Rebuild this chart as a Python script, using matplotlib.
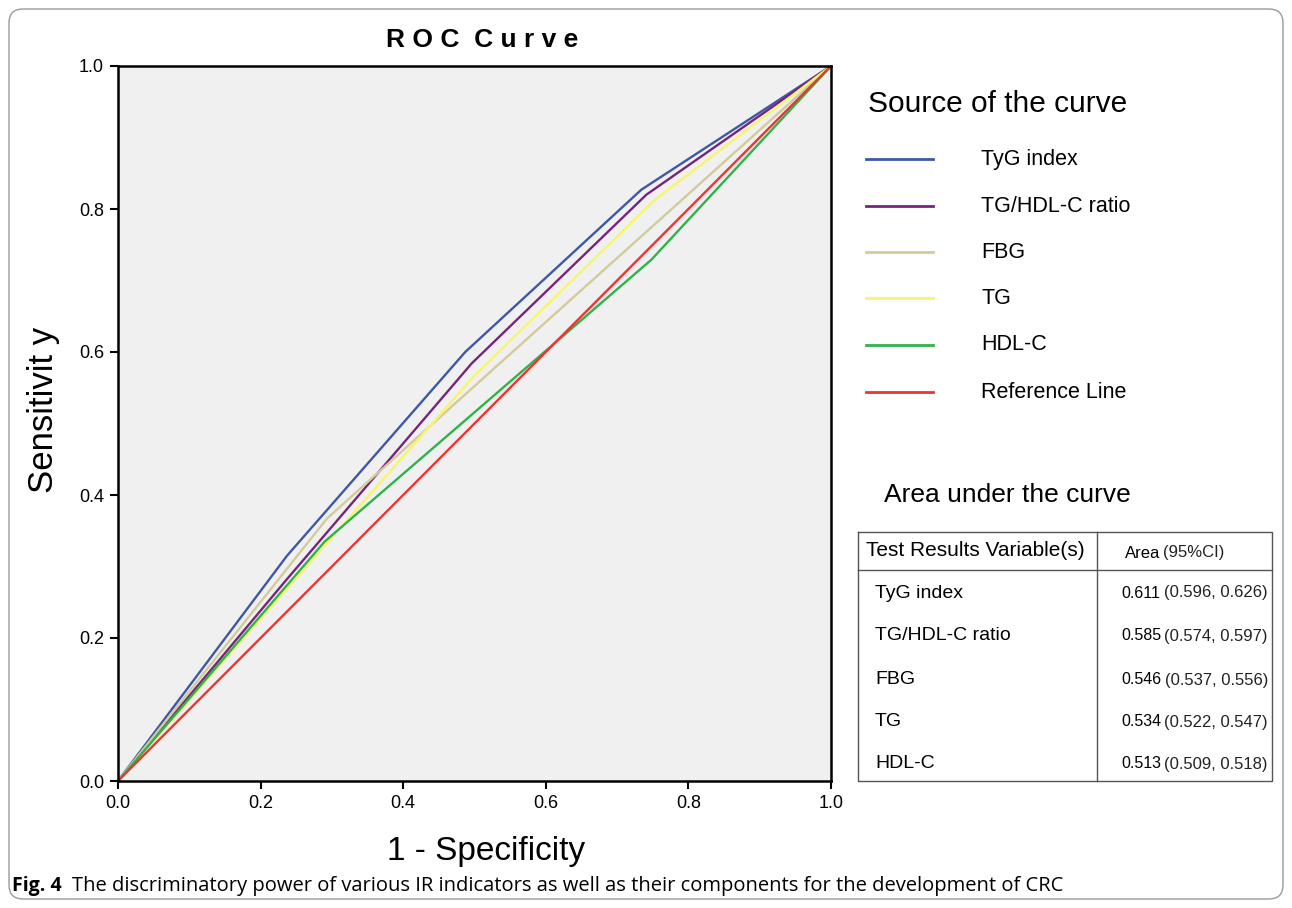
import matplotlib.pyplot as plt
from matplotlib.patches import FancyBboxPatch

plt.rcParams['font.family'] = ['Liberation Sans', 'DejaVu Sans']

# ROC curve points (1 - specificity, sensitivity)
tyg_x = [0, 0.237, 0.487, 0.734, 1]
tyg_y = [0, 0.315, 0.600, 0.827, 1]
ratio_x = [0, 0.235, 0.496, 0.741, 1]
ratio_y = [0, 0.280, 0.584, 0.820, 1]
fbg_x = [0, 0.293, 1]
fbg_y = [0, 0.367, 1]
tg_x = [0, 0.498, 0.753, 1]
tg_y = [0, 0.565, 0.813, 1]
hdl_x = [0, 0.290, 0.748, 1]
hdl_y = [0, 0.335, 0.729, 1]
ref_x = [0, 1]
ref_y = [0, 1]

names = ['TyG index', 'TG/HDL-C ratio', 'FBG', 'TG', 'HDL-C', 'Reference Line']
colors = ['#3f58a6', '#75257c', '#d3cb9c', '#f8f46c', '#30b24a', '#ee3333']
ticks = [0.0, 0.2, 0.4, 0.6, 0.8, 1.0]

auc = ['0.611', '0.585', '0.546', '0.534', '0.513']
ci = ['(0.596, 0.626)', '(0.574, 0.597)', '(0.537, 0.556)', '(0.522, 0.547)', '(0.509, 0.518)']

fig = plt.figure(figsize=(12.92, 9.08), dpi=100)
ax = fig.add_axes([118 / 1292, 1 - 781 / 908, 713 / 1292, 715 / 908])
ax.set_facecolor('#f0f0f0')

curves = [(tyg_x, tyg_y), (ratio_x, ratio_y), (fbg_x, fbg_y),
          (tg_x, tg_y), (hdl_x, hdl_y), (ref_x, ref_y)]
for (xs, ys), c, n in zip(curves, colors, names):
    ax.plot(xs, ys, color=c, lw=1.7, label=n)

ax.set_xlim(0, 1)
ax.set_ylim(0, 1)
ax.set_xticks(ticks)
ax.set_yticks(ticks)
ax.set_xticklabels([f'{t:.1f}' for t in ticks])
ax.set_yticklabels([f'{t:.1f}' for t in ticks])
ax.tick_params(direction='out', length=6, width=1.5, labelsize=13, pad=4)
for s in ax.spines.values():
    s.set_linewidth(1.8)

ax.set_title('R O C  C u r v e', fontsize=19, fontweight='bold', pad=14, x=0.51)
ax.set_xlabel('1 - Specificity', fontsize=24, va='center')
ax.xaxis.set_label_coords(0.516, -0.099)
ax.set_ylabel('Sensitivit y', fontsize=25, va='center')
ax.yaxis.set_label_coords(-0.105, 0.519)

# overlay in pixel coordinates for legend, table and caption
ov = fig.add_axes([0, 0, 1, 1], facecolor='none')
ov.set_xlim(0, 1292)
ov.set_ylim(908, 0)
ov.axis('off')

ov.add_patch(FancyBboxPatch((9, 9), 1274, 890, boxstyle='round,pad=0,rounding_size=14',
                            fill=False, ec='#9a9a9a', lw=1))

ov.text(868, 104, 'Source of the curve', fontsize=21.5, va='center', ha='left')
leg_y = [159, 206, 252, 298, 345, 392]
for y, c, n in zip(leg_y, colors, names):
    ov.plot([866, 933], [y, y], color=c, lw=2)
    ov.text(981, y, n, fontsize=15.5, va='center', ha='left')

ov.text(884, 495, 'Area under the curve', fontsize=19, va='center', ha='left')

# table
tl, tr, tt, tb = 858, 1272, 532, 781
ov.plot([tl, tr, tr, tl, tl], [tt, tt, tb, tb, tt], color='#555555', lw=1)
ov.plot([tl, tr], [570, 570], color='#555555', lw=1)
ov.plot([1097, 1097], [tt, tb], color='#555555', lw=1)
ov.text(866, 551, 'Test Results Variable(s)', fontsize=15, va='center', ha='left')
ov.text(1125, 553, 'Area', fontsize=12, va='center', ha='left')
ov.text(1163, 553, '(95%CI)', fontsize=12, va='center', ha='left', color='#222222')
row_y = [593, 636, 680, 722, 764]
for y, n, a, c in zip(row_y, names[:5], auc, ci):
    ov.text(875, y, n, fontsize=14, va='center', ha='left')
    ov.text(1121, y, a, fontsize=11.5, va='center', ha='left')
    ov.text(1268, y, c, fontsize=12, va='center', ha='right', color='#222222')

ov.text(12, 886, 'Fig. 4', fontsize=14, fontweight='bold', va='center', ha='left',
        family=['Open Sans', 'DejaVu Sans'])
ov.text(72, 886, 'The discriminatory power of various IR indicators as well as their components for the development of CRC',
        fontsize=14.5, va='center', ha='left', family=['Open Sans', 'DejaVu Sans'])

fig.savefig('out.png', dpi=100)
